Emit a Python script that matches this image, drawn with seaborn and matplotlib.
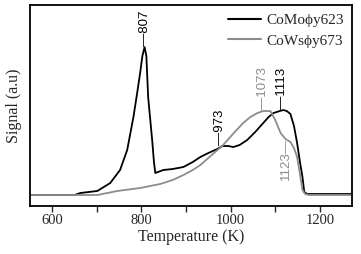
import numpy as np
import pandas as pd
import matplotlib
matplotlib.use("Agg")
import matplotlib.pyplot as plt
import seaborn as sns

# Data (temperature in K, signal in arbitrary units)
como_T = [550, 600, 650, 663, 701, 730, 752, 768, 782, 790, 797, 802, 807, 811, 815, 820, 824, 828, 831,
          849, 870, 894, 915, 932, 950, 970, 981, 995, 1006, 1020, 1037, 1055, 1073, 1085, 1096, 1110,
          1118, 1126, 1134, 1142, 1149, 1155, 1161, 1165, 1172, 1200, 1240, 1272]
como_S = [11, 11, 11, 13, 15, 23, 36, 56, 89, 112, 133, 150, 159, 150, 109, 85, 66, 44, 33,
          36, 37, 39, 44, 49, 53, 57, 60, 60, 59, 61, 66, 74, 83, 89, 93, 95,
          96, 95, 92, 80, 63, 45, 29, 14, 12, 12, 12, 12]

cows_T = [550, 600, 650, 701, 746, 797, 842, 870, 894, 915, 932, 955, 981, 1005, 1028, 1044, 1060,
          1073, 1089, 1100, 1112, 1123, 1134, 1142, 1149, 1155, 1161, 1167, 1175, 1200, 1240, 1272]
cows_S = [11, 11, 11, 11, 15, 18, 22, 26, 31, 36, 41, 50, 60, 72, 83, 89, 93,
          95, 95, 86, 73, 67, 64, 58, 49, 33, 16, 12, 11, 11, 11, 11]

series_names = ["CoMo\u03d5y623", "CoWs\u03d5y673"]
series_colors = ["#000000", "#8c8c8c"]

peak_labels = ["\u2014807", "\u2014973", "\u20141073", "\u20141113", "1123\u2014"]
peak_T = [807, 975, 1073, 1115, 1125]
peak_S = [159, 60, 95, 96, 69]
peak_colors = ["#000000", "#000000", "#8c8c8c", "#000000", "#8c8c8c"]
peak_va = ["bottom", "bottom", "bottom", "bottom", "top"]

df = pd.concat([
    pd.DataFrame({"T": como_T, "S": como_S, "series": series_names[0]}),
    pd.DataFrame({"T": cows_T, "S": cows_S, "series": series_names[1]}),
])

sns.set_style("white")
plt.rcParams["font.family"] = ["Liberation Serif", "DejaVu Serif"]

fig = plt.figure(figsize=(3.61, 2.54), dpi=100)
ax = fig.add_axes([0.083, 0.189, 0.892, 0.791])

sns.lineplot(data=df, x="T", y="S", hue="series", palette=series_colors,
             hue_order=series_names, linewidth=1.3, sort=False, ax=ax, legend=True)

for lab, t, s, c, va in zip(peak_labels, peak_T, peak_S, peak_colors, peak_va):
    offs = 1 if va == "bottom" else -1
    ax.text(t, s + offs, lab, rotation=90, ha="center", va=va, fontsize=9.5, color=c,
            family=["Liberation Sans", "DejaVu Sans"])

ax.set_xlim(550, 1272)
ax.set_ylim(0, 201)
ax.set_xticks([600, 800, 1000, 1200])
ax.set_xticks([700, 900, 1100], minor=True)
ax.set_yticks([])
ax.tick_params(axis="x", which="major", direction="out", length=4, width=1,
               labelsize=10.5, bottom=True, pad=2)
ax.tick_params(axis="x", which="minor", direction="out", length=4, width=1, bottom=True)
for sp in ax.spines.values():
    sp.set_visible(True)
    sp.set_color("black")
    sp.set_linewidth(1.3)

ax.set_xlabel("Temperature (K)", fontsize=11.5, labelpad=1)
ax.set_ylabel("Signal (a.u)", fontsize=11.5, labelpad=6)

leg = ax.legend(loc="upper right", frameon=False, fontsize=11, handlelength=2.2,
                handletextpad=0.3, borderaxespad=0.15, labelspacing=0.45)
for line in leg.get_lines():
    line.set_linewidth(1.5)

fig.savefig("out.png", dpi=100)
